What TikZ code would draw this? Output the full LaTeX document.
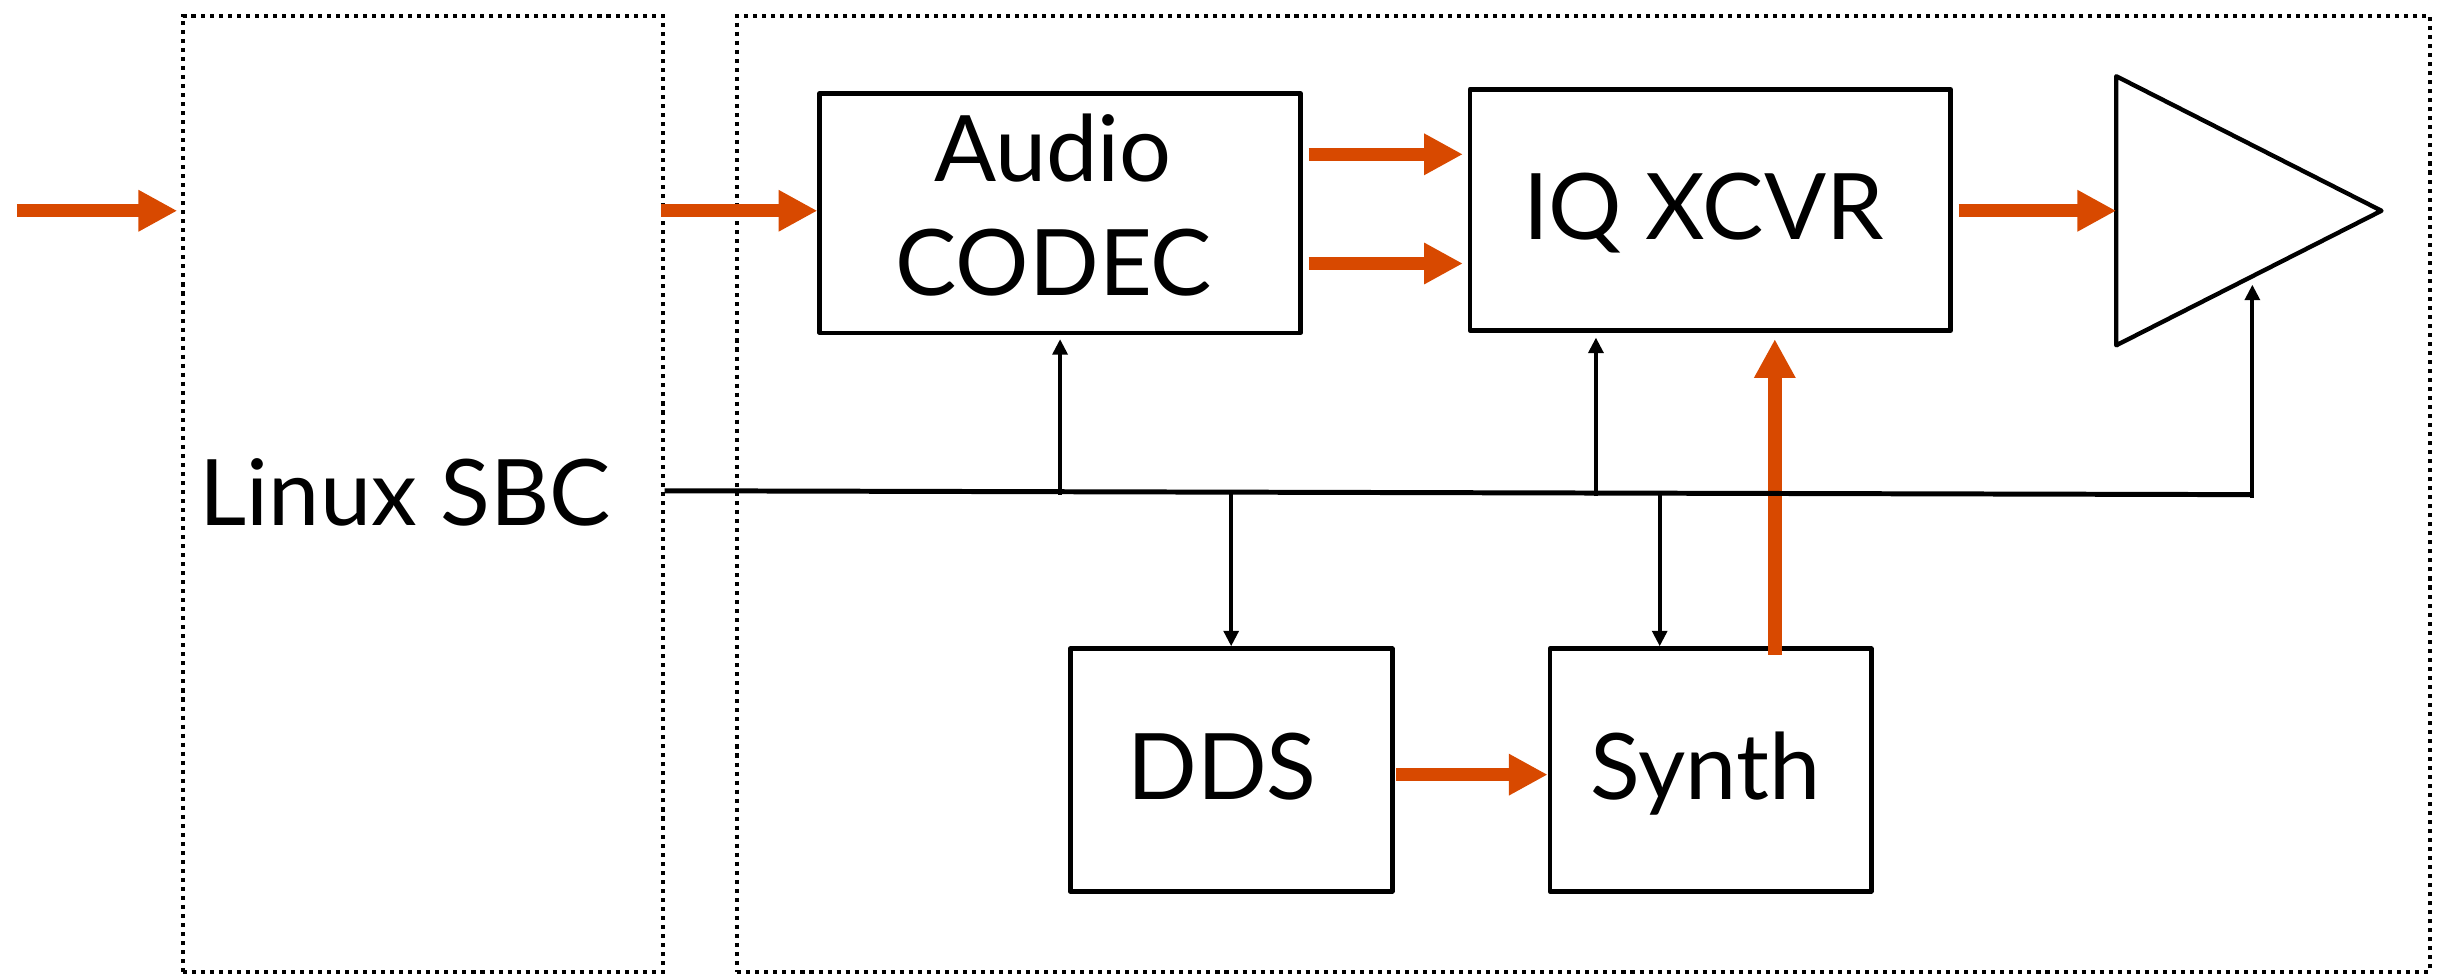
\documentclass[tikz,border=0pt]{standalone}
\usepackage{fontspec}
\setmainfont{Lato}
\usetikzlibrary{arrows.meta}
\definecolor{sigcol}{RGB}{216,73,0}
\begin{document}
\begin{tikzpicture}[x=1pt,y=-1pt,
  blk/.style={draw, line width=3pt, line join=round, inner sep=0pt, rectangle},
  dotbox/.style={draw, line width=2.6pt, dash pattern=on 2.6pt off 3.2pt, inner sep=0pt, rectangle},
  sigarrow/.style={draw=sigcol, line width=8.6pt, -{Triangle[length=25pt,width=25pt]}},
  ctl/.style={draw, line width=2.6pt, -{Triangle[length=10pt,width=9.5pt]}},
  bus/.style={draw, line width=3.2pt},
  lbl/.style={font=\fontsize{59}{70}\selectfont, anchor=base, inner sep=0pt}]
\useasboundingbox (0,0) rectangle (1568,626.2);
% containers
\node[dotbox, minimum width=308.5pt, minimum height=615pt] (sbc) at (271.75,317.5) {};
\node[dotbox, minimum width=1088pt, minimum height=615pt] (board) at (1018,317.5) {};
% blocks
\node[blk, minimum width=309pt, minimum height=154pt] (codec) at (681.5,137) {};
\node[blk, minimum width=309pt, minimum height=155pt] (iq) at (1099.5,135) {};
\node[blk, minimum width=207pt, minimum height=156pt] (dds) at (791.5,495) {};
\node[blk, minimum width=206.5pt, minimum height=156pt] (synth) at (1099.75,495) {};
% amplifier
\coordinate (ampA) at (1360.5,49);
\coordinate (ampB) at (1360.5,222);
\coordinate (ampT) at (1531,135.5);
\coordinate (ampIn) at (1360.5,135.5);
\draw[line width=2.8pt, line join=round] (ampA) -- (ampT) -- (ampB) -- cycle;
% labels
\node[lbl] (tsbc) at (260.5,338) {Linux SBC};
\node[lbl] (taudio) at (677,117) {Audio};
\node[lbl] (tcodec) at (677.5,190) {CODEC};
\node[lbl] (tiq) at (1095,154) {IQ XCVR};
\node[lbl] (tdds) at (785.5,514) {DDS};
\node[lbl] (tsynth) at (1096.5,514) {Synth};
% signal arrows
\coordinate (src) at (10.8,135.5);
\coordinate (inTip) at (114,135.5);
\draw[sigarrow] (src) -- (inTip);
\draw[sigarrow] (425,135.5) coordinate (o1) -- (codec.west |- o1);
\draw[sigarrow, shorten <=3.8pt, shorten >=3pt] (codec.east |- 0,99.2) -- (iq.west |- 0,99.2);
\draw[sigarrow, shorten <=3.8pt, shorten >=3pt] (codec.east |- 0,169.4) -- (iq.west |- 0,169.4);
\draw[sigarrow, shorten <=3.6pt] (iq.east |- ampIn) -- (ampIn);
\draw[sigarrow, shorten <=1pt] (dds.east |- 0,498) -- (synth.west |- 0,498);
\coordinate (lo) at (1141,421);
\draw[sigarrow, shorten >=4pt] (lo) -- (iq.south -| lo);
% control bus
\coordinate (busL) at (426,315.5);
\coordinate (busR) at (1449,318);
\draw[bus] (sbc.east |- busL) -- (busR);
\coordinate (b1) at (681.5,318);
\coordinate (b2) at (1026,319);
\coordinate (b3) at (1448,320);
\coordinate (b4) at (791.5,316.4);
\coordinate (b5) at (1067,317.1);
\draw[ctl, shorten >=2.5pt] (b1) -- (codec.south);
\draw[ctl, shorten >=3pt] (b2) -- (iq.south -| b2);
\draw[ctl] (b3) -- (1448,183) coordinate (ampCtl);
\draw[ctl] (b4) -- (dds.north);
\draw[ctl] (b5) -- (synth.north -| b5);
\end{tikzpicture}
\end{document}
